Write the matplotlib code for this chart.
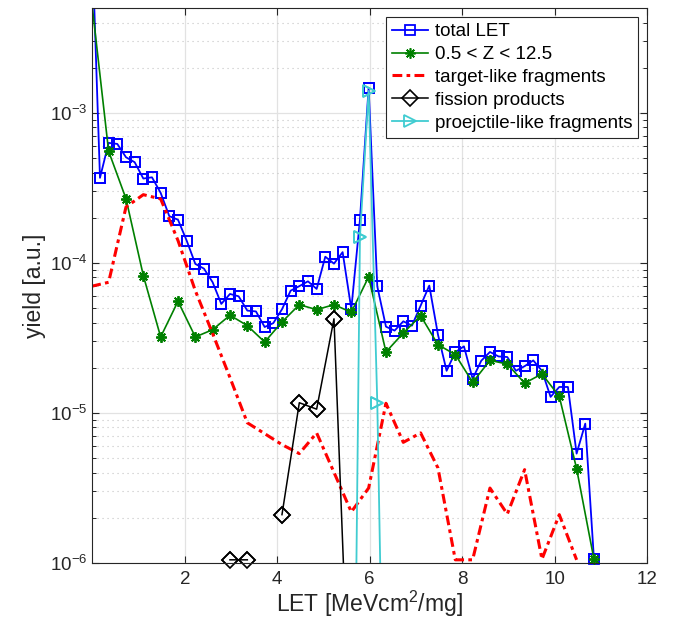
import numpy as np
import matplotlib
matplotlib.use("Agg")
import matplotlib.pyplot as plt
from matplotlib.ticker import FixedLocator, FixedFormatter, NullFormatter

plt.rcParams['font.family'] = ['Liberation Sans', 'DejaVu Sans']
plt.rcParams['mathtext.fontset'] = 'custom'
plt.rcParams['mathtext.rm'] = 'Liberation Sans'
plt.rcParams['mathtext.it'] = 'Liberation Sans:italic'
plt.rcParams['mathtext.default'] = 'regular'

# ---------------- data ----------------
let_x = [-0.024, 0.164, 0.351, 0.539, 0.727, 0.914, 1.102, 1.289, 1.477, 1.664,
         1.852, 2.039, 2.227, 2.414, 2.602, 2.789, 2.977, 3.164, 3.352, 3.539,
         3.727, 3.914, 4.102, 4.289, 4.477, 4.664, 4.852, 5.039, 5.227, 5.414,
         5.602, 5.789, 5.977, 6.164, 6.352, 6.539, 6.727, 6.914, 7.102, 7.289,
         7.477, 7.664, 7.852, 8.039, 8.227, 8.414, 8.602, 8.789, 8.977, 9.164,
         9.352, 9.539, 9.727, 9.914, 10.102, 10.289, 10.477, 10.664, 10.852]

total_let = [2.0e-2, 3.69e-4, 6.31e-4, 6.21e-4, 5.06e-4, 4.69e-4, 3.65e-4, 3.72e-4, 2.93e-4, 2.05e-4,
             1.94e-4, 1.41e-4, 9.85e-5, 9.16e-5, 7.43e-5, 5.33e-5, 6.21e-5, 5.99e-5, 4.81e-5, 4.75e-5,
             3.74e-5, 3.97e-5, 4.91e-5, 6.53e-5, 7.0e-5, 7.54e-5, 6.71e-5, 1.10e-4, 9.89e-5, 1.18e-4,
             4.93e-5, 1.94e-4, 1.47e-3, 6.98e-5, 3.76e-5, 3.54e-5, 4.08e-5, 3.82e-5, 5.19e-5, 7.06e-5,
             3.33e-5, 1.91e-5, 2.54e-5, 2.78e-5, 1.69e-5, 2.23e-5, 2.55e-5, 2.38e-5, 2.36e-5, 1.91e-5,
             2.05e-5, 2.24e-5, 1.91e-5, 1.28e-5, 1.49e-5, 1.49e-5, 5.36e-6, 8.49e-6, 1.06e-6]

light_x = [-0.024, 0.351, 0.727, 1.102, 1.477, 1.852, 2.227, 2.602, 2.977, 3.352,
           3.727, 4.102, 4.477, 4.852, 5.227, 5.602, 5.977, 6.352, 6.727, 7.102,
           7.477, 7.852, 8.227, 8.602, 8.977, 9.352, 9.727, 10.102, 10.477, 10.852]
light_z = [5.8e-3, 5.55e-4, 2.68e-4, 8.23e-5, 3.21e-5, 5.55e-5, 3.21e-5, 3.59e-5, 4.48e-5, 3.82e-5,
           2.97e-5, 4.04e-5, 5.27e-5, 4.88e-5, 5.27e-5, 4.69e-5, 8.07e-5, 2.55e-5, 3.41e-5, 4.45e-5,
           2.85e-5, 2.45e-5, 1.60e-5, 2.24e-5, 2.12e-5, 1.58e-5, 1.82e-5, 1.29e-5, 4.25e-6, 1.06e-6]

target_x = light_x[:29]
target_like = [6.98e-5, 7.43e-5, 2.36e-4, 2.85e-4, 2.67e-4, 1.41e-4, 6.53e-5, 3.38e-5, 1.72e-5, 8.6e-6,
               7.28e-6, 6.15e-6, 5.36e-6, 7.36e-6, 4.02e-6, 2.19e-6, 3.16e-6, 1.16e-5, 6.37e-6, 7.36e-6,
               4.3e-6, 1.05e-6, 1.05e-6, 3.16e-6, 2.12e-6, 4.19e-6, 1.06e-6, 2.1e-6, 1.05e-6]

fission_x = [2.977, 3.352, 3.727, 4.102, 4.477, 4.852, 5.227, 5.602]
fission = [1.05e-6, 1.05e-6, np.nan, 2.1e-6, 1.17e-5, 1.06e-5, 4.24e-5, 4.3e-8]

proj_x = [5.602, 5.789, 5.977, 6.164, 6.352]
projectile_like = [7e-10, 1.49e-4, 1.40e-3, 1.17e-5, 7.6e-9]

# ---------------- figure ----------------
fig = plt.figure(figsize=(6.74, 6.37), dpi=100)
ax = fig.add_axes([92.4 / 674, 1 - 563 / 637, (647 - 92.4) / 674, (563 - 8) / 637])
ax.set_yscale('log')
ax.set_xlim(0, 12)
ax.set_ylim(1e-6, 5e-3)
ax.set_axisbelow(True)

blue = (0, 0, 1)
green = (0, 0.5, 0)
red = (1, 0, 0)
cyan = (0.25, 0.80, 0.82)

series = [
    (let_x, total_let, dict(color=blue, lw=1.3, marker='s', ms=6.8, mfc='none', mec=blue, mew=1.3, ls='-'), 'total LET'),
    (light_x, light_z, dict(color=green, lw=1.2, marker=(8, 2, 0), ms=7.5, mec=green, mew=1.2, ls='-'), '0.5 < Z < 12.5'),
    (target_x, target_like, dict(color=red, lw=2.2, ls=(0, (3.2, 1.4, 1.2, 1.4))), 'target-like fragments'),
    (fission_x, fission, dict(color='k', lw=1.1, marker='D', ms=8, mfc='none', mec='k', mew=1.2, ls='-'), 'fission products'),
    (proj_x, projectile_like, dict(color=cyan, lw=1.3, marker='>', ms=9, mfc='none', mec=cyan, mew=1.3, ls='-'), 'proejctile-like fragments'),
]

handles = []
for xs, ys, st, lab in series:
    h, = ax.plot(xs, ys, label=lab, **st)
    handles.append(h)
    if 'marker' in st:
        xa = np.array(xs, float)
        ya = np.array(ys, float)
        ok = np.isfinite(ya) & (ya >= 1e-6) & (ya <= 5e-3)
        st2 = dict(st)
        st2['ls'] = 'none'
        ax.plot(xa[ok], ya[ok], clip_on=False, **st2)

# ticks
ax.set_xticks([2, 4, 6, 8, 10, 12])
ax.set_xticklabels(['2', '4', '6', '8', '10', '12'])
ax.yaxis.set_major_locator(FixedLocator([1e-6, 1e-5, 1e-4, 1e-3]))
ax.yaxis.set_major_formatter(FixedFormatter(['$10^{-6}$', '$10^{-5}$', '$10^{-4}$', '$10^{-3}$']))
minors = [m * 10.0 ** e for e in range(-6, -2) for m in range(2, 10)]
ax.yaxis.set_minor_locator(FixedLocator(minors))
ax.yaxis.set_minor_formatter(NullFormatter())
ax.xaxis.set_minor_locator(FixedLocator([]))

tc = '#262626'
ax.tick_params(which='both', direction='in', top=True, right=True, colors=tc, labelsize=13.5)
ax.tick_params(which='major', length=5, width=0.8)
ax.tick_params(which='minor', length=2.8, width=0.7)
ax.tick_params(axis='x', pad=6)
for s in ax.spines.values():
    s.set_color(tc)
    s.set_linewidth(0.8)

ax.grid(True, which='major', color='#e2e2e2', lw=0.9, ls='-')
ax.yaxis.grid(True, which='minor', color='#c4c4c4', lw=0.8, ls=(0, (1, 3.5)))

ax.set_xlabel('LET [MeVcm$^2$/mg]', fontsize=16.5, color=tc, labelpad=0)
ax.set_ylabel('yield [a.u.]', fontsize=16.5, color=tc, labelpad=3)

leg = ax.legend(handles=handles, loc='upper right', bbox_to_anchor=(0.984, 0.983),
                borderaxespad=0, fontsize=13.5, frameon=True, fancybox=False,
                handlelength=1.9, handletextpad=0.4, labelspacing=0.31,
                borderpad=0.3, framealpha=1)
leg.get_frame().set_edgecolor(tc)
leg.get_frame().set_linewidth(0.8)

fig.savefig('out.png', dpi=100)
